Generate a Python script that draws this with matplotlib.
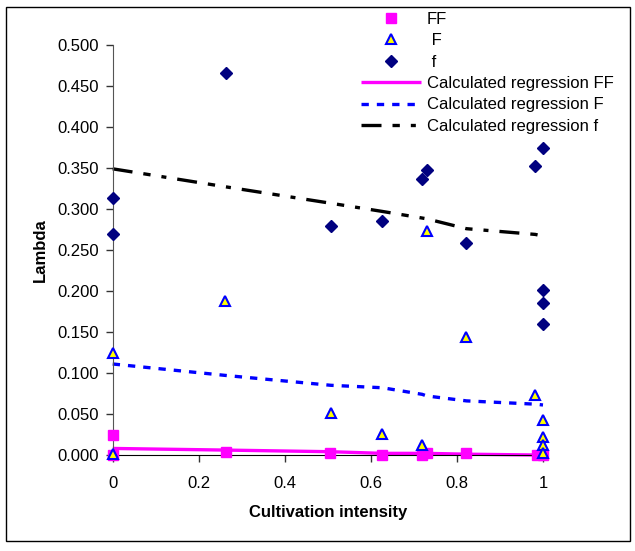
import matplotlib
matplotlib.use("Agg")
import matplotlib.pyplot as plt
from matplotlib.patches import Rectangle

plt.rcParams['font.family'] = ['Liberation Sans', 'DejaVu Sans']

# measured points
ff_x = [0, 0, 0.263, 0.505, 0.627, 0.719, 0.73, 0.822, 0.986, 1.0]
ff_y = [0.025, 0.000, 0.004, 0.002, 0.000, 0.000, 0.002, 0.003, 0.000, 0.000]

F_x = [0, 0, 0.262, 0.507, 0.627, 0.719, 0.730, 0.822, 0.982, 1.0, 1.0, 1.0, 1.0]
F_y = [0.125, 0.001, 0.188, 0.051, 0.026, 0.012, 0.273, 0.144, 0.073, 0.043, 0.022, 0.012, 0.003]

f_x = [0, 0, 0.263, 0.507, 0.627, 0.719, 0.730, 0.822, 0.982, 1.0, 1.0, 1.0, 1.0]
f_y = [0.314, 0.269, 0.466, 0.279, 0.285, 0.337, 0.347, 0.259, 0.353, 0.374, 0.201, 0.185, 0.160]

# calculated regression (values at the sorted x positions)
reg_x = [0, 0.263, 0.507, 0.627, 0.719, 0.730, 0.822, 0.982, 1.0]
reg_ff = [0.008, 0.006, 0.004, 0.002, 0.002, 0.002, 0.001, 0.000, 0.000]
reg_F = [0.111, 0.097, 0.085, 0.082, 0.074, 0.072, 0.066, 0.062, 0.061]
reg_f = [0.349, 0.327, 0.307, 0.297, 0.289, 0.288, 0.276, 0.269, 0.267]

W, H = 635, 551
fig = plt.figure(figsize=(W / 100, H / 100), dpi=100)
ax = fig.add_axes([112.7 / W, 1 - 455 / H, (543 - 112.7) / W, (455 - 45) / H])

# regression lines
l1, = ax.plot(reg_x, reg_ff, color="#ff00ff", lw=2.4, solid_capstyle="butt",
              label="Calculated regression FF", clip_on=False)
l2, = ax.plot(reg_x, reg_F, color="#0000ff", lw=2.4, linestyle=(0, (2.2, 2.4)),
              label="Calculated regression F", clip_on=False)
l3, = ax.plot(reg_x, reg_f, color="black", lw=2.4,
              linestyle=(0, (6, 3.3, 2.2, 3.3, 1.5, 3.3)),
              label="Calculated regression f", clip_on=False)

# data points
m1, = ax.plot(ff_x, ff_y, "s", color="#ff00ff", ms=7, mec="#ff00ff",
              label="FF", clip_on=False, zorder=3)
m2, = ax.plot(F_x, F_y, "^", mfc="#ffff00", mec="#0000ff", mew=1.5, ms=7.5,
              label=" F", clip_on=False, zorder=3)
m3, = ax.plot(f_x, f_y, "D", color="#000080", ms=6.5,
              label=" f", clip_on=False, zorder=3)

ax.set_xlim(0, 1)
ax.set_ylim(0, 0.5)
ax.set_xticks([0, 0.2, 0.4, 0.6, 0.8, 1])
ax.set_xticklabels(["0", "0.2", "0.4", "0.6", "0.8", "1"])
ax.set_yticks([i * 0.05 for i in range(11)])
ax.set_yticklabels([f"{i * 0.05:.3f}" for i in range(11)])
ax.tick_params(labelsize=12, direction="out", length=5, width=1, color="#333333")
ax.tick_params(axis="x", pad=10)
ax.tick_params(axis="y", pad=5)
ax.spines["top"].set_visible(False)
ax.spines["right"].set_visible(False)
ax.spines["left"].set_color("#555555")
ax.spines["bottom"].set_color("black")

ax.set_xlabel("Cultivation intensity", fontsize=12, fontweight="bold", labelpad=10)
ax.set_ylabel("Lambda", fontsize=12, fontweight="bold", labelpad=7)

fig.legend(handles=[m1, m2, m3, l1, l2, l3], loc="upper left",
           bbox_to_anchor=(361 / W, 1 - 12 / H), frameon=False, fontsize=12,
           handlelength=3.6, handletextpad=0.35, labelspacing=0.38,
           borderaxespad=0, borderpad=0)

# outer chart border
fig.patches.append(Rectangle((6 / W, 1 - 541 / H), 624 / W, 534 / H,
                             transform=fig.transFigure, fill=False,
                             edgecolor="black", lw=1))

fig.savefig("out.png", dpi=100)
